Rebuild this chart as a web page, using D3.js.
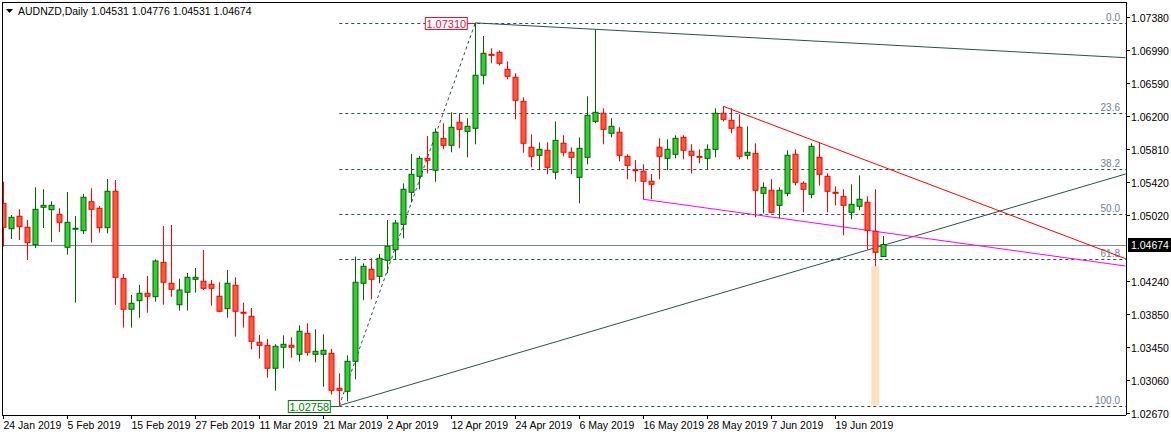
<!DOCTYPE html>
<html>
<head>
<meta charset="utf-8">
<script src="https://cdn.jsdelivr.net/npm/d3@7"></script>
<style>
  body { margin: 0; background: #fff; }
  svg { display: block; font-family: "Liberation Sans", Arial, sans-serif; }
</style>
</head>
<body>
<svg id="chart" width="1171" height="437"></svg>
<script>
const SYMBOL = "AUDNZD,Daily";

const opens = [1.05164,1.04862,1.05010,1.04879,1.04672,1.05117,1.05088,1.05033,1.04641,1.04864,
  1.04838,1.05183,1.05105,1.04874,1.05307,1.04272,1.03904,1.04006,1.04094,1.04053,
  1.04462,1.04213,1.03958,1.04106,1.04260,1.04237,1.04201,1.04058,1.03911,1.04189,
  1.03868,1.03820,1.03511,1.03475,1.03202,1.03452,1.03475,1.03368,1.03618,1.03368,
  1.03368,1.03380,1.02964,1.02928,1.03285,1.04213,1.04379,1.04296,1.04486,1.04612,
  1.04914,1.05295,1.05485,1.05699,1.05557,1.05937,1.05854,1.06128,1.06020,1.06056,
  1.06687,1.06936,1.06960,1.06758,1.06663,1.06377,1.05830,1.05735,1.05795,1.05533,
  1.05878,1.05771,1.05473,1.05711,1.06139,1.06235,1.05997,1.06009,1.05723,1.05564,
  1.05545,1.05426,1.05830,1.05699,1.05747,1.05949,1.05783,1.05723,1.05699,1.05806,
  1.06235,1.06151,1.06068,1.05735,1.05759,1.05283,1.05319,1.05140,1.05283,1.05747,
  1.05402,1.05271,1.05711,1.05485,1.05295,1.05247,1.05057,1.05129,1.05176,1.04831,1.04531];
const highs = [1.05421,1.05025,1.05093,1.04966,1.05354,1.05331,1.05188,1.05105,1.05299,1.05013,
  1.05275,1.05343,1.05132,1.05453,1.05441,1.04323,1.04074,1.04193,1.04300,1.04498,
  1.04894,1.04906,1.04267,1.04335,1.04395,1.04609,1.04252,1.04225,1.04371,1.04284,
  1.03982,1.03919,1.03598,1.03550,1.03487,1.03594,1.03571,1.03713,1.03737,1.03666,
  1.03606,1.03431,1.03142,1.03356,1.04529,1.04451,1.04510,1.04561,1.04966,1.04966,
  1.05402,1.05751,1.05727,1.05965,1.06056,1.06116,1.06246,1.06235,1.06175,1.07310,
  1.07154,1.07008,1.06984,1.06853,1.06710,1.06425,1.05985,1.05890,1.05890,1.06139,
  1.05973,1.05830,1.05949,1.06437,1.07234,1.06294,1.06175,1.06068,1.05747,1.05679,
  1.05628,1.05513,1.05937,1.05925,1.05973,1.05973,1.05866,1.05806,1.05866,1.06294,
  1.06318,1.06294,1.06223,1.06080,1.05878,1.05414,1.05450,1.05354,1.05795,1.05806,
  1.05426,1.05878,1.05890,1.05521,1.05366,1.05331,1.05390,1.05497,1.05247,1.05331,1.04776];
const lows = [1.04648,1.04740,1.04728,1.04490,1.04633,1.04870,1.04704,1.04823,1.04553,1.03982,
  1.04799,1.04696,1.04815,1.04807,1.03955,1.03685,1.03685,1.03804,1.03863,1.03994,
  1.03958,1.04053,1.03887,1.03887,1.04101,1.04133,1.03946,1.03868,1.03804,1.03578,
  1.03685,1.03428,1.03316,1.03090,1.02935,1.03202,1.03328,1.03280,1.03352,1.03273,
  1.02983,1.02888,1.02758,1.02809,1.03071,1.04011,1.04022,1.04213,1.04332,1.04490,
  1.04748,1.05176,1.05331,1.05521,1.05421,1.05806,1.05771,1.05818,1.05711,1.05866,
  1.06579,1.06829,1.06805,1.06639,1.06163,1.05766,1.05592,1.05557,1.05509,1.05450,
  1.05723,1.05509,1.05164,1.05628,1.06116,1.05866,1.05949,1.05664,1.05450,1.05421,
  1.05212,1.05212,1.05450,1.05557,1.05699,1.05687,1.05521,1.05640,1.05569,1.05711,
  1.06139,1.05997,1.05687,1.05687,1.04998,1.05045,1.05045,1.04986,1.05247,1.05378,
  1.05057,1.05224,1.05374,1.05057,1.05140,1.04784,1.04974,1.05081,1.04617,1.04415,1.04531];
const closes = [1.04879,1.04998,1.04886,1.04696,1.05093,1.05140,1.05140,1.04938,1.04938,1.04867,
  1.05236,1.05093,1.04874,1.05307,1.04284,1.03904,1.03975,1.04094,1.04058,1.04478,
  1.04225,1.04141,1.04133,1.04284,1.04284,1.04153,1.04153,1.03880,1.04213,1.03880,
  1.03860,1.03523,1.03475,1.03202,1.03463,1.03487,1.03452,1.03642,1.03392,1.03404,
  1.03416,1.02940,1.02940,1.03285,1.04225,1.04415,1.04260,1.04510,1.04653,1.04930,
  1.05331,1.05509,1.05699,1.05676,1.06009,1.05854,1.06068,1.06044,1.06080,1.06687,
  1.06948,1.06928,1.06829,1.06675,1.06389,1.05878,1.05723,1.05806,1.05592,1.05913,
  1.05771,1.05711,1.05818,1.06211,1.06246,1.06044,1.06080,1.05735,1.05616,1.05557,
  1.05426,1.05390,1.05723,1.05806,1.05937,1.05795,1.05735,1.05715,1.05806,1.06235,
  1.06163,1.06056,1.05723,1.05771,1.05319,1.05354,1.05057,1.05319,1.05735,1.05414,
  1.05331,1.05842,1.05509,1.05307,1.05283,1.05140,1.05152,1.05212,1.04843,1.04581,1.04674];

const dateLabels = ["24 Jan 2019","5 Feb 2019","15 Feb 2019","27 Feb 2019","11 Mar 2019","21 Mar 2019",
  "2 Apr 2019","12 Apr 2019","24 Apr 2019","6 May 2019","16 May 2019","28 May 2019","7 Jun 2019","19 Jun 2019"];
const priceTicks = [1.07380,1.06990,1.06590,1.06200,1.05810,1.05420,1.05020,1.04240,1.03850,1.03450,1.03060,1.02670];

// fibonacci from the swing low (bar 42) to the swing high (bar 59)
const fibLow = 1.02758, fibHigh = 1.07310, fibLowBar = 42, fibHighBar = 59;
const fibLevels = [0, 23.6, 38.2, 50, 61.8, 100];

// trend lines: [bar1, price1, bar2, price2, colour]
const trendLines = [
  [59, 1.07310, 140.3, 1.06896, "#2f4f4f"],
  [42, 1.02758, 140.3, 1.05513, "#2f4f4f"],
  [90, 1.06318, 140.3, 1.04505, "#ff0000"],
  [80, 1.05212, 140.3, 1.04418, "#ff00ff"]
];
const highlightBar = 109, highlightTop = 1.04415, highlightBottom = 1.02758;

const svg = d3.select("#chart");
const plotRight = 1126, plotTop = 2, plotBottom = 415;

const x = d3.scaleLinear().domain([0, 140.3]).range([3.3, 1125.7]);
const y = d3.scaleLinear().domain([1.02670, 1.07380]).range([413, 17]);

const defs = svg.append("defs");
defs.append("clipPath").attr("id", "plot").append("rect")
  .attr("x", 3).attr("y", plotTop).attr("width", plotRight - 3).attr("height", plotBottom - plotTop);

const plot = svg.append("g").attr("clip-path", "url(#plot)");

// highlight rectangle
plot.append("rect")
  .attr("x", x(highlightBar) - 4).attr("width", 8)
  .attr("y", y(highlightTop)).attr("height", y(highlightBottom) - y(highlightTop))
  .attr("fill", "#fde0c2");

// fib levels
const fibY = (lvl) => fibHigh - (fibHigh - fibLow) * lvl / 100;
fibLevels.forEach((lvl) => {
  const yy = Math.round(y(fibY(lvl))) + 0.5;
  plot.append("line").attr("x1", x(fibLowBar)).attr("x2", plotRight).attr("y1", yy).attr("y2", yy)
    .attr("stroke", "#2f4f4f").attr("stroke-dasharray", "3,3");
  plot.append("text").attr("x", plotRight - 6).attr("y", yy - 3).attr("text-anchor", "end")
    .attr("font-size", 10).attr("fill", "#708090").text(lvl.toFixed(1));
});
plot.append("line")
  .attr("x1", x(fibLowBar)).attr("y1", y(fibLow)).attr("x2", x(fibHighBar)).attr("y2", y(fibHigh))
  .attr("stroke", "#2f4f4f").attr("stroke-dasharray", "3,3");

// current price line
const last = closes[closes.length - 1];
plot.append("line").attr("x1", 3).attr("x2", plotRight)
  .attr("y1", Math.round(y(last)) + 0.5).attr("y2", Math.round(y(last)) + 0.5)
  .attr("stroke", "#778899");

// trend lines
trendLines.forEach(([b1, p1, b2, p2, c]) => {
  plot.append("line").attr("x1", x(b1)).attr("y1", y(p1)).attr("x2", x(b2)).attr("y2", y(p2))
    .attr("stroke", c).attr("stroke-width", 1);
});

// candles
const idx = d3.range(opens.length);
const candles = plot.selectAll(".c").data(idx).enter().append("g");
candles.append("line")
  .attr("x1", (i) => Math.round(x(i)) + 0.5).attr("x2", (i) => Math.round(x(i)) + 0.5)
  .attr("y1", (i) => y(highs[i])).attr("y2", (i) => y(lows[i]))
  .attr("stroke", (i) => closes[i] >= opens[i] ? "#006400" : "#ff0000");
candles.append("rect")
  .attr("x", (i) => Math.round(x(i)) - 2)
  .attr("width", 5)
  .attr("y", (i) => y(Math.max(opens[i], closes[i])))
  .attr("height", (i) => Math.max(1, Math.abs(y(opens[i]) - y(closes[i]))))
  .attr("fill", (i) => closes[i] >= opens[i] ? "#32cd32" : "#ff5a3c")
  .attr("stroke", (i) => closes[i] >= opens[i] ? "#006400" : "#ff0000");

// swing labels
const labelBox = (txt, bar, price, color, dx) => {
  const yy = Math.round(y(price)) + 0.5;
  const bx = x(bar) + dx;
  plot.append("line").attr("x1", bx).attr("x2", x(bar)).attr("y1", yy).attr("y2", yy).attr("stroke", color);
  plot.append("rect").attr("x", bx - 42).attr("y", yy - 6).attr("width", 42).attr("height", 12)
    .attr("fill", "#fff").attr("stroke", color);
  plot.append("text").attr("x", bx - 21).attr("y", yy + 4).attr("text-anchor", "middle")
    .attr("font-size", 11).attr("fill", color).text(txt);
};
labelBox("1.07310", fibHighBar, fibHigh, "#dc143c", -8);
labelBox("1.02758", fibLowBar, fibLow, "#008000", -9);

// frame
svg.append("line").attr("x1", 2.5).attr("x2", 2.5).attr("y1", plotTop).attr("y2", plotBottom).attr("stroke", "#000");
svg.append("line").attr("x1", 2).attr("x2", plotRight).attr("y1", plotTop + 0.5).attr("y2", plotTop + 0.5).attr("stroke", "#000");
svg.append("line").attr("x1", plotRight + 0.5).attr("x2", plotRight + 0.5).attr("y1", plotTop).attr("y2", plotBottom).attr("stroke", "#000");
svg.append("line").attr("x1", 2).attr("x2", plotRight).attr("y1", plotBottom + 0.5).attr("y2", plotBottom + 0.5).attr("stroke", "#000");

// price axis
priceTicks.forEach((p) => {
  const yy = Math.round(y(p)) + 0.5;
  svg.append("line").attr("x1", plotRight).attr("x2", plotRight + 4).attr("y1", yy).attr("y2", yy).attr("stroke", "#000");
  svg.append("text").attr("x", plotRight + 5).attr("y", yy + 4).attr("font-size", 10.5).attr("fill", "#000")
    .text(p.toFixed(5));
});
const ly = Math.round(y(last));
svg.append("rect").attr("x", plotRight + 2).attr("y", ly - 7).attr("width", 43).attr("height", 14).attr("fill", "#000");
svg.append("text").attr("x", plotRight + 5).attr("y", ly + 4).attr("font-size", 10.5).attr("fill", "#fff").text(last.toFixed(5));

// date axis
dateLabels.forEach((d, k) => {
  const xx = Math.round(x(k * 8)) + 0.5;
  svg.append("line").attr("x1", xx).attr("x2", xx).attr("y1", plotBottom).attr("y2", plotBottom + 4).attr("stroke", "#000");
  svg.append("text").attr("x", xx).attr("y", 429).attr("font-size", 10.5).attr("fill", "#000").text(d);
});

// header
svg.append("path").attr("d", "M6,9 L13,9 L9.5,13 Z").attr("fill", "#000");
svg.append("text").attr("x", 18).attr("y", 15).attr("font-size", 10.5).attr("fill", "#000")
  .text(`${SYMBOL}  ${opens[opens.length - 1].toFixed(5)} ${highs[highs.length - 1].toFixed(5)} ${lows[lows.length - 1].toFixed(5)} ${last.toFixed(5)}`);
</script>
</body>
</html>
